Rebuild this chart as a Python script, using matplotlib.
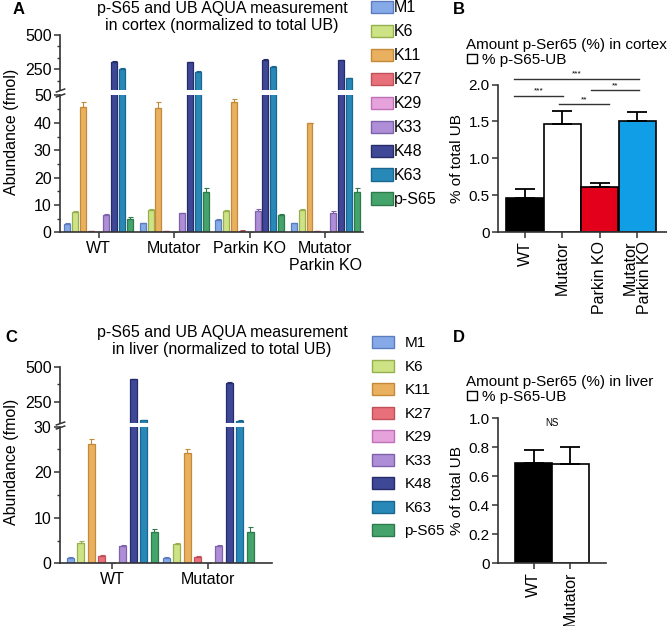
import numpy as np
import matplotlib.pyplot as plt
from matplotlib.patches import Patch

plt.rcParams['font.family'] = ['Liberation Sans', 'DejaVu Sans']

# data
series = ['M1', 'K6', 'K11', 'K27', 'K29', 'K33', 'K48', 'K63', 'p-S65']
face_cols = ['#86A9E8', '#CDE385', '#E9B060', '#E8707A', '#E6A2DA',
             '#AE8ED6', '#3F4896', '#2888B8', '#45A46C']
edge_cols = ['#5C7CC0', '#96B050', '#C48A3A', '#C0505A', '#C070B8',
             '#7E62AC', '#262C6A', '#1A6890', '#2E7A4C']

cortex_groups = ['WT', 'Mutator', 'Parkin KO', 'Mutator\nParkin KO']
cortex_mean = [
    [3.1, 3.3, 4.5, 3.3],      # M1
    [7.5, 8.1, 7.8, 8.1],      # K6
    [45.9, 45.3, 47.5, 39.8],  # K11
    [0.4, 0.3, 0.6, 0.3],      # K27
    [0.0, 0.0, 0.0, 0.0],      # K29
    [6.3, 6.9, 7.8, 6.9],      # K33
    [306, 301, 321, 316],      # K48
    [255, 230, 267, 184],      # K63
    [4.7, 14.6, 6.3, 14.8],    # p-S65
]
cortex_err = [
    [0.2, 0.2, 0.3, 0.2],
    [0.3, 0.3, 0.2, 0.3],
    [1.6, 2.4, 1.1, 0.3],
    [0.1, 0.1, 0.1, 0.1],
    [0.0, 0.0, 0.0, 0.0],
    [0.3, 0.2, 0.6, 0.9],
    [3, 4, 3, 3],
    [5, 6, 6, 5],
    [1.0, 1.5, 0.3, 1.5],
]

liver_groups = ['WT', 'Mutator']
liver_mean = [
    [1.2, 1.2],
    [4.4, 4.3],
    [26.2, 24.2],
    [1.7, 1.4],
    [0.0, 0.0],
    [3.8, 3.7],
    [410, 386],
    [119, 116],
    [6.8, 6.8],
]
liver_err = [
    [0.1, 0.1],
    [0.4, 0.15],
    [1.1, 0.9],
    [0.1, 0.1],
    [0.0, 0.0],
    [0.15, 0.3],
    [6, 3],
    [2, 2],
    [0.8, 1.1],
]

pct_cortex = [0.47, 1.46, 0.61, 1.50]
pct_cortex_err = [0.11, 0.175, 0.055, 0.13]
pct_cortex_cols = ['black', 'white', '#E2001A', '#109FE6']
cortex_tick_labels = ['WT', 'Mutator', 'Parkin KO', 'Mutator\nParkin KO']
# (start, end, level, stars)
cortex_sig = [(-0.29, 3.04, 2.07, '***'), (-0.29, 1.01, 1.85, '***'),
              (0.91, 2.24, 1.73, '**'), (1.76, 3.04, 1.92, '**')]

pct_liver = [0.69, 0.68]
pct_liver_err = [0.087, 0.12]
pct_liver_cols = ['black', 'white']

W, H = 667, 626
fig = plt.figure(figsize=(W / 100, H / 100), dpi=100)
AX = '#333333'


def px_axes(x0, y0, x1, y1):
    return fig.add_axes([x0 / W, 1 - y1 / H, (x1 - x0) / W, (y1 - y0) / H])


def style(ax, bottom=True, size=11.5):
    for s in ['top', 'right']:
        ax.spines[s].set_visible(False)
    ax.spines['left'].set_linewidth(1.2)
    ax.spines['left'].set_color(AX)
    ax.spines['bottom'].set_linewidth(1.2)
    ax.spines['bottom'].set_color(AX)
    if not bottom:
        ax.spines['bottom'].set_visible(False)
        ax.tick_params(axis='x', bottom=False, labelbottom=False)
    ax.tick_params(direction='out', length=4, width=1.1, color=AX, labelsize=size, pad=2)
    ax.tick_params(which='minor', direction='out', length=2.5, width=1.0, color=AX)


def grouped(ax, means, errs, ngroups, pitch, width):
    for i in range(len(series)):
        x = np.arange(ngroups) + (i - 4) * pitch
        ax.bar(x, means[i], width, color=face_cols[i], edgecolor=edge_cols[i], lw=0.9,
               yerr=[np.zeros(ngroups), errs[i]],
               error_kw=dict(ecolor=edge_cols[i], elinewidth=0.8, capsize=1.8, capthick=0.8))


def break_marks(ax_top, ax_bot):
    kw = dict(marker=[(-1, -0.35), (1, 0.35)], markersize=7, linestyle='none',
              color=AX, mec=AX, mew=1.1, clip_on=False)
    ax_top.plot([0], [0], transform=ax_top.transAxes, **kw)
    ax_bot.plot([0], [1], transform=ax_bot.transAxes, **kw)


# ---------- Panel A ----------
axA_t = px_axes(60, 35, 363, 90)
axA_b = px_axes(60, 95.5, 363, 232.3)
for ax in (axA_t, axA_b):
    grouped(ax, cortex_mean, cortex_err, 4, 0.104, 0.079)
    ax.set_xlim(-0.51, 3.5)
axA_t.set_ylim(100, 500)
axA_b.set_ylim(0, 50)
style(axA_t, bottom=False)
style(axA_b)
axA_t.set_yticks([250, 500])
axA_t.set_yticks([500 - 250 / 3, 500 - 500 / 3, 250 - 250 / 3], minor=True)
axA_b.set_yticks(np.arange(0, 51, 10))
axA_b.set_yticks(np.arange(5, 50, 10), minor=True)
axA_b.set_xticks(range(4))
axA_b.set_xticklabels(cortex_groups, fontsize=11.5)
break_marks(axA_t, axA_b)
fig.text(222 / W, 1 - 17 / H, 'p-S65 and UB AQUA measurement\nin cortex (normalized to total UB)',
         ha='center', va='center', fontsize=11.5, linespacing=1.12)
fig.text(12 / W, 1 - 132 / H, 'Abundance (fmol)', rotation=90, ha='center', va='center', fontsize=11.5)
fig.text(13 / W, 1 - 9 / H, 'A', fontsize=12, fontweight='bold', ha='left', va='center')
fig.legend([Patch(facecolor=face_cols[i], edgecolor=edge_cols[i]) for i in range(9)], series,
           loc='upper left', bbox_to_anchor=(371 / W, 1 - 0.5 / H), frameon=False,
           fontsize=11.5, handlelength=1.375, handleheight=0.8, handletextpad=0.05,
           labelspacing=0.56, borderpad=0, borderaxespad=0)

# ---------- Panel C ----------
axC_t = px_axes(60, 366.7, 272, 423)
axC_b = px_axes(60, 426.7, 272, 563.3)
for ax in (axC_t, axC_b):
    grouped(ax, liver_mean, liver_err, 2, 0.109, 0.073)
    ax.set_xlim(-0.54, 1.66)
axC_t.set_ylim(100, 500)
axC_b.set_ylim(0, 30)
style(axC_t, bottom=False)
style(axC_b)
axC_t.set_yticks([250, 500])
axC_t.set_yticks([375], minor=True)
axC_b.set_yticks([0, 10, 20, 30])
axC_b.set_yticks([5, 15, 25], minor=True)
axC_b.set_xticks(range(2))
axC_b.set_xticklabels(liver_groups, fontsize=11.5)
break_marks(axC_t, axC_b)
fig.text(222 / W, 1 - 341 / H, 'p-S65 and UB AQUA measurement\nin liver (normalized to total UB)',
         ha='center', va='center', fontsize=11.5, linespacing=1.12)
fig.text(12 / W, 1 - 462 / H, 'Abundance (fmol)', rotation=90, ha='center', va='center', fontsize=11.5)
fig.text(5 / W, 1 - 337 / H, 'C', fontsize=12, fontweight='bold', ha='left', va='center')
fig.legend([Patch(facecolor=face_cols[i], edgecolor=edge_cols[i]) for i in range(9)], series,
           loc='upper left', bbox_to_anchor=(372 / W, 1 - 336 / H), frameon=False,
           fontsize=11, handlelength=1.44, handleheight=0.84, handletextpad=0.68,
           labelspacing=0.6, borderpad=0, borderaxespad=0)

# ---------- Panel B ----------
axB = px_axes(498, 84.5, 667, 232.3)
xb = np.arange(len(pct_cortex))
axB.bar(xb, pct_cortex, 0.99, color=pct_cortex_cols, edgecolor='black', lw=1.2,
        yerr=[np.zeros(len(xb)), pct_cortex_err],
        error_kw=dict(ecolor='black', elinewidth=1.3, capsize=7, capthick=1.3))
axB.set_xlim(-0.72, 3.79)
axB.set_ylim(0, 2)
style(axB, size=11)
axB.set_yticks([0, 0.5, 1.0, 1.5, 2.0])
axB.set_yticklabels(['0', '0.5', '1.0', '1.5', '2.0'])
axB.set_xticks(xb)
axB.set_xticklabels(cortex_tick_labels, rotation=90, fontsize=11.5, ma='right', linespacing=1.0)
axB.set_ylabel('% of total UB', fontsize=11)
axB.yaxis.set_label_coords((464 - 498) / 169, 0.5)
for x1, x2, lev, stars in cortex_sig:
    axB.plot([x1, x2], [lev, lev], color=AX, lw=1.0, clip_on=False)
    axB.text((x1 + x2) / 2, lev + 0.02, stars, ha='center', va='bottom', fontsize=6, clip_on=False)
fig.text(466 / W, 1 - 45 / H, 'Amount p-Ser65 (%) in cortex', ha='left', va='center', fontsize=11)
fig.legend([Patch(facecolor='white', edgecolor='black', lw=1.0)], ['% p-S65-UB'],
           loc='center left', bbox_to_anchor=(467 / W, 1 - 60 / H), frameon=False, fontsize=11,
           handlelength=0.65, handleheight=0.55, handletextpad=0.3, borderpad=0, borderaxespad=0)
fig.text(453 / W, 1 - 9 / H, 'B', fontsize=12, fontweight='bold', ha='left', va='center')

# ---------- Panel D ----------
axD = px_axes(498, 418, 606, 563.3)
xd = np.arange(len(pct_liver))
axD.bar(xd, pct_liver, 1.0, color=pct_liver_cols, edgecolor='black', lw=1.2,
        yerr=[np.zeros(len(xd)), pct_liver_err],
        error_kw=dict(ecolor='black', elinewidth=1.3, capsize=7, capthick=1.3))
axD.set_xlim(-0.96, 1.96)
axD.set_ylim(0, 1)
style(axD, size=11)
axD.set_yticks([0, 0.2, 0.4, 0.6, 0.8, 1.0])
axD.set_yticklabels(['0', '0.2', '0.4', '0.6', '0.8', '1.0'])
axD.set_xticks(xd)
axD.set_xticklabels(liver_groups, rotation=90, fontsize=11.5)
axD.set_ylabel('% of total UB', fontsize=11)
axD.yaxis.set_label_coords((464 - 498) / 108, 0.5)
axD.text(0.5, 0.965, 'NS', ha='center', va='center', fontsize=7)
fig.text(466 / W, 1 - 382 / H, 'Amount p-Ser65 (%) in liver', ha='left', va='center', fontsize=11)
fig.legend([Patch(facecolor='white', edgecolor='black', lw=1.0)], ['% p-S65-UB'],
           loc='center left', bbox_to_anchor=(467 / W, 1 - 397 / H), frameon=False, fontsize=11,
           handlelength=0.65, handleheight=0.55, handletextpad=0.3, borderpad=0, borderaxespad=0)
fig.text(453 / W, 1 - 338 / H, 'D', fontsize=12, fontweight='bold', ha='left', va='center')

fig.savefig('out.png', dpi=100)
